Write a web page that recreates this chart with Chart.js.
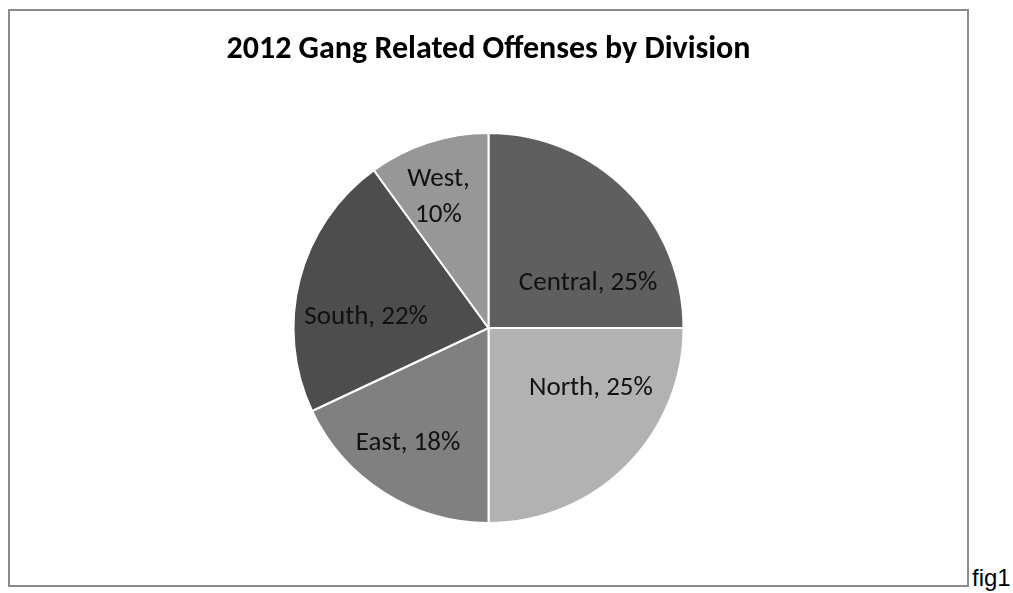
<!DOCTYPE html>
<html>
<head>
<meta charset="utf-8">
<script src="https://cdn.jsdelivr.net/npm/chart.js@4.4.1/dist/chart.umd.min.js"></script>
<style>
  body { margin: 0; background: #fff; overflow: hidden; }
  #box {
    position: absolute; left: 8px; top: 9px;
    width: 957px; height: 574px;
    border: 2px solid #8c8c8c;
  }
  #fig {
    position: absolute; left: 972px; top: 564px;
    font: 24px "Liberation Sans", Arial, sans-serif; color: #000;
    white-space: nowrap;
  }
</style>
</head>
<body>
<div id="box"><canvas id="pie-chart" width="957" height="574"></canvas></div>
<div id="fig">fig1</div>
<script>
const divisions = ["Central", "North", "East", "South", "West"];
const shares = [25, 25, 18, 22, 10];
const sliceColors = ["#5f5f5f", "#b2b2b2", "#808080", "#4d4d4d", "#979797"];
// where each label sits: fraction of the slice sweep, fraction of the radius
const labelSweep = [0.73, 0.34, 0.54, 0.38, 0.42];
const labelRadius = [0.56, 0.61, 0.72, 0.63, 0.72];

const fontStack = 'Carlito, "Open Sans", "Noto Sans", sans-serif';

const sliceLabels = {
    id: 'sliceLabels',
    afterDatasetsDraw(chart) {
        const ctx = chart.ctx;
        const arcs = chart.getDatasetMeta(0).data;
        ctx.save();
        ctx.font = '27px ' + fontStack;
        ctx.fillStyle = '#111';
        ctx.textAlign = 'center';
        ctx.textBaseline = 'middle';
        arcs.forEach(function (arc, i) {
            const a = arc.startAngle + (arc.endAngle - arc.startAngle) * labelSweep[i];
            const r = arc.outerRadius * labelRadius[i];
            const x = arc.x + Math.cos(a) * r;
            const y = arc.y + Math.sin(a) * r;
            if (divisions[i] === 'West') {
                // narrow slice, label wraps onto two lines
                ctx.fillText(divisions[i] + ',', x, y - 18);
                ctx.fillText(shares[i] + '%', x, y + 18);
            } else {
                ctx.fillText(divisions[i] + ', ' + shares[i] + '%', x, y);
            }
        });
        ctx.restore();
    }
};

new Chart(document.getElementById("pie-chart"), {
    type: 'pie',
    data: {
        labels: divisions,
        datasets: [
            {
                data: shares,
                backgroundColor: sliceColors,
                borderColor: '#ffffff',
                borderWidth: 2
            }
        ]
    },
    options: {
        responsive: false,
        animation: false,
        layout: { padding: { top: 0, bottom: 61 } },
        plugins: {
            legend: { display: false },
            tooltip: { enabled: false },
            title: {
                display: true,
                text: '2012 Gang Related Offenses by Division',
                color: '#000',
                font: { family: fontStack, size: 32, weight: 'bold' },
                padding: { top: 20, bottom: 62.6 }
            }
        }
    },
    plugins: [sliceLabels]
});
</script>
</body>
</html>
